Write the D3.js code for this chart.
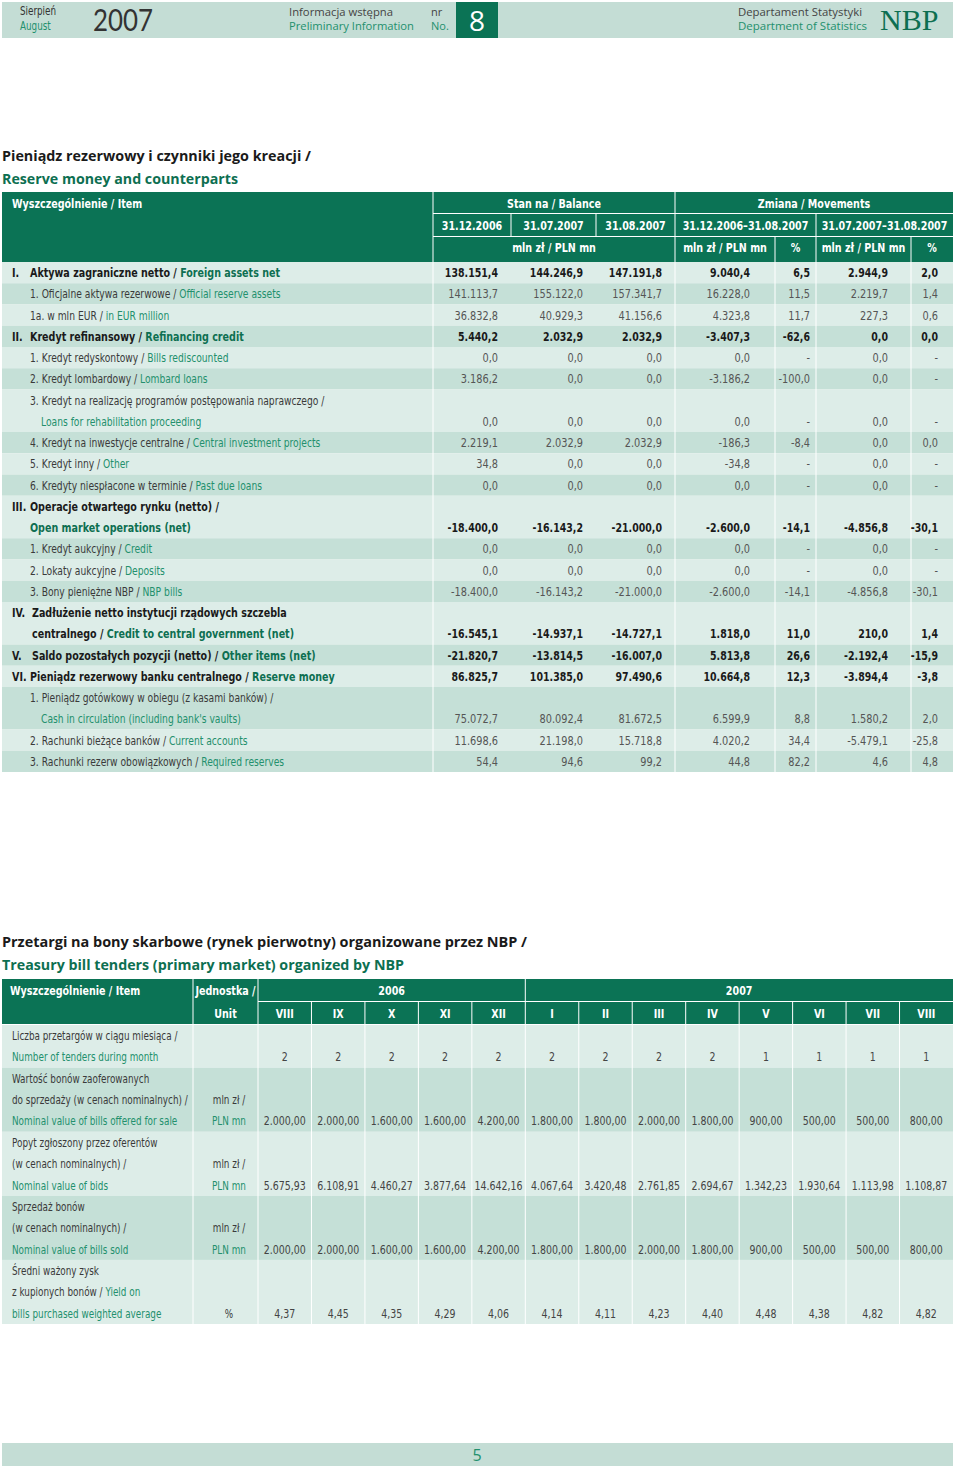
<!DOCTYPE html>
<html><head><meta charset="utf-8">
<script src="https://cdn.jsdelivr.net/npm/d3@7"></script>
<style>body{margin:0;background:#fff} svg{display:block}</style>
</head><body>
<script>
// ---------------- DATA ----------------
const t1DateCols = ["31.12.2006","31.07.2007","31.08.2007","31.12.2006–31.08.2007","31.07.2007–31.08.2007"];
const t1Labels = [
 {num:"I.",  bold:true, lines:[["Aktywa zagraniczne netto / ","Foreign assets net"]]},
 {num:"", lines:[["1. Oficjalne aktywa rezerwowe / ","Official reserve assets"]]},
 {num:"", lines:[["1a. w mln EUR / ","in EUR million"]]},
 {num:"II.", bold:true, lines:[["Kredyt refinansowy / ","Refinancing credit"]]},
 {num:"", lines:[["1. Kredyt redyskontowy / ","Bills rediscounted"]]},
 {num:"", lines:[["2. Kredyt lombardowy / ","Lombard loans"]]},
 {num:"", lines:[["3. Kredyt na realizację programów postępowania naprawczego /",""],["","Loans for rehabilitation proceeding"]]},
 {num:"", lines:[["4. Kredyt na inwestycje centralne / ","Central investment projects"]]},
 {num:"", lines:[["5. Kredyt inny / ","Other"]]},
 {num:"", lines:[["6. Kredyty niespłacone w terminie / ","Past due loans"]]},
 {num:"III.", bold:true, lines:[["Operacje otwartego rynku (netto) /",""],["","Open market operations (net)"]]},
 {num:"", lines:[["1. Kredyt aukcyjny / ","Credit"]]},
 {num:"", lines:[["2. Lokaty aukcyjne / ","Deposits"]]},
 {num:"", lines:[["3. Bony pieniężne NBP / ","NBP bills"]]},
 {num:"IV.", bold:true, lines:[["Zadłużenie netto instytucji rządowych szczebla",""],["centralnego / ","Credit to central government (net)"]]},
 {num:"V.", bold:true, lines:[["Saldo pozostałych pozycji (netto) / ","Other items (net)"]]},
 {num:"VI.", bold:true, lines:[["Pieniądz rezerwowy banku centralnego / ","Reserve money"]]},
 {num:"", lines:[["1. Pieniądz gotówkowy w obiegu (z kasami banków) /",""],["","Cash in circulation (including bank's vaults)"]]},
 {num:"", lines:[["2. Rachunki bieżące banków / ","Current accounts"]]},
 {num:"", lines:[["3. Rachunki rezerw obowiązkowych / ","Required reserves"]]}
];
const bal20061231 = [138151.4,141113.7,36832.8,5440.2,0.0,3186.2,0.0,2219.1,34.8,0.0,-18400.0,0.0,0.0,-18400.0,-16545.1,-21820.7,86825.7,75072.7,11698.6,54.4];
const bal20070731 = [144246.9,155122.0,40929.3,2032.9,0.0,0.0,0.0,2032.9,0.0,0.0,-16143.2,0.0,0.0,-16143.2,-14937.1,-13814.5,101385.0,80092.4,21198.0,94.6];
const bal20070831 = [147191.8,157341.7,41156.6,2032.9,0.0,0.0,0.0,2032.9,0.0,0.0,-21000.0,0.0,0.0,-21000.0,-14727.1,-16007.0,97490.6,81672.5,15718.8,99.2];
const chgYtd      = [9040.4,16228.0,4323.8,-3407.3,0.0,-3186.2,0.0,-186.3,-34.8,0.0,-2600.0,0.0,0.0,-2600.0,1818.0,5813.8,10664.8,6599.9,4020.2,44.8];
const chgYtdPct   = [6.5,11.5,11.7,-62.6,null,-100.0,null,-8.4,null,null,-14.1,null,null,-14.1,11.0,26.6,12.3,8.8,34.4,82.2];
const chgMonth    = [2944.9,2219.7,227.3,0.0,0.0,0.0,0.0,0.0,0.0,0.0,-4856.8,0.0,0.0,-4856.8,210.0,-2192.4,-3894.4,1580.2,-5479.1,4.6];
const chgMonthPct = [2.0,1.4,0.6,0.0,null,null,null,0.0,null,null,-30.1,null,null,-30.1,1.4,-15.9,-3.8,2.0,-25.8,4.8];

const t2Months2006 = ["VIII","IX","X","XI","XII"];
const t2Months2007 = ["I","II","III","IV","V","VI","VII","VIII"];
const t2Labels = [
 {lines:[["Liczba przetargów w ciągu miesiąca /",""],["","Number of tenders during month"]], unit:[]},
 {lines:[["Wartość bonów zaoferowanych",""],["do sprzedaży (w cenach nominalnych) /",""],["","Nominal value of bills offered for sale"]], unit:[["",""],["mln zł /",""],["","PLN mn"]]},
 {lines:[["Popyt zgłoszony przez oferentów",""],["(w cenach nominalnych) /",""],["","Nominal value of bids"]], unit:[["",""],["mln zł /",""],["","PLN mn"]]},
 {lines:[["Sprzedaż bonów",""],["(w cenach nominalnych) /",""],["","Nominal value of bills sold"]], unit:[["",""],["mln zł /",""],["","PLN mn"]]},
 {lines:[["Średni ważony zysk",""],["z kupionych bonów / ","Yield on"],["","bills purchased weighted average"]], unit:[["",""],["",""],["%",""]]}
];
const tendersCount = [2,2,2,2,2,2,2,2,2,1,1,1,1];
const billsOffered = [2000.00,2000.00,1600.00,1600.00,4200.00,1800.00,1800.00,2000.00,1800.00,900.00,500.00,500.00,800.00];
const bidsValue    = [5675.93,6108.91,4460.27,3877.64,14642.16,4067.64,3420.48,2761.85,2694.67,1342.23,1930.64,1113.98,1108.87];
const billsSold    = [2000.00,2000.00,1600.00,1600.00,4200.00,1800.00,1800.00,2000.00,1800.00,900.00,500.00,500.00,800.00];
const yieldAvg     = [4.37,4.45,4.35,4.29,4.06,4.14,4.11,4.23,4.40,4.48,4.38,4.82,4.82];

// ---------------- STYLE ----------------
const C = {dark:"#0b7355", band:"#c4ddd5", light:"#ddede8", mid:"#c5e0d7", green:"#23906d", gBold:"#0d6f51", txt:"#3a3a3a", blk:"#1a1a1a"};
const COND = "'DejaVu Sans Condensed','Liberation Sans Narrow',sans-serif";
const SANS = "'Open Sans','Noto Sans',sans-serif";
const SX = 0.85;
const loc = d3.formatLocale({decimal:",", thousands:".", grouping:[3], currency:["",""], minus:"-"});
const f1 = loc.format(",.1f"), f2 = loc.format(",.2f");
const fmt1 = v => v == null ? "-" : f1(v);

const svg = d3.select("body").append("svg").attr("width",960).attr("height",1468);
svg.append("rect").attr("width",960).attr("height",1468).attr("fill","#fff");

function txt(g, x, y, segs, o){
  const sx = o.sx != null ? o.sx : ((o.family||COND)===COND ? SX : 1);
  const t = g.append("text").attr("transform",`translate(${x},${y}) scale(${sx},1)`)
    .attr("font-family",o.family||COND).attr("font-size",o.size||12)
    .attr("font-weight",o.bold?"bold":"normal").attr("text-anchor",o.anchor||"start");
  segs.forEach((s,i)=>{ if(!s) return; t.append("tspan").text(s)
     .attr("fill", i===0 ? (o.bold?C.blk:C.txt) : (o.bold?C.gBold:C.green)); });
  if(o.fill) t.selectAll("tspan").attr("fill",o.fill);
  if(o.fit) t.attr("textLength",o.fit).attr("lengthAdjust","spacingAndGlyphs");
  return t;
}

// ---------------- PAGE HEADER ----------------
svg.append("rect").attr("x",2).attr("y",2).attr("width",951).attr("height",36).attr("fill",C.band);
svg.append("rect").attr("x",456).attr("y",2).attr("width",42).attr("height",36).attr("fill",C.dark);
txt(svg,20,15,["Sierpień"],{size:11.5,fill:"#333"});
txt(svg,20,30,["August"],{size:11.5,fill:C.green});
txt(svg,93,31,["2007"],{family:"Lato,'Open Sans',sans-serif",size:31,fill:"#333",fit:60});
txt(svg,289,16,["Informacja wstępna"],{family:SANS,size:11,fill:"#444",fit:104});
txt(svg,289,30,["Preliminary Information"],{family:SANS,size:11,fill:C.green,fit:125});
txt(svg,431,16,["nr"],{family:SANS,size:11,fill:"#444"});
txt(svg,431,30,["No."],{family:SANS,size:11,fill:C.green});
txt(svg,477,31,["8"],{family:SANS,size:28,fill:"#fff",anchor:"middle"});
txt(svg,738,16,["Departament Statystyki"],{family:SANS,size:11,fill:"#444",fit:124});
txt(svg,738,30,["Department of Statistics"],{family:SANS,size:11,fill:C.green,fit:129});
txt(svg,880,30,["NBP"],{family:"'Liberation Serif','DejaVu Serif',serif",size:30,fill:C.gBold});

// ---------------- TABLE 1 ----------------
txt(svg,2,161,["Pieniądz rezerwowy i czynniki jego kreacji /"],{family:SANS,size:14.5,bold:true,fill:C.blk,fit:309});
txt(svg,2,184,["Reserve money and counterparts"],{family:SANS,size:14.5,bold:true,fill:C.gBold,fit:236});

const h1 = svg.append("g");
h1.append("rect").attr("x",2).attr("y",192).attr("width",951).attr("height",70).attr("fill",C.dark);
const wl = (g,x1,y1,x2,y2)=>g.append("line").attr("x1",x1).attr("y1",y1).attr("x2",x2).attr("y2",y2).attr("stroke","#fff").attr("stroke-width",1);
wl(h1,433,192,433,262); wl(h1,433,213.5,953,213.5); wl(h1,433,236.5,953,236.5);
wl(h1,675,192,675,262); wl(h1,511,213.5,511,236.5); wl(h1,596,213.5,596,236.5); wl(h1,816,213.5,816,262);
wl(h1,775,236.5,775,262); wl(h1,911,236.5,911,262);
const hOpt = {bold:true,fill:"#fff",anchor:"middle",size:12.5};
txt(h1,12,208,["Wyszczególnienie / Item"],{bold:true,fill:"#fff",size:12.5});
txt(h1,554,208,["Stan na / Balance"],hOpt);
txt(h1,814,208,["Zmiana / Movements"],hOpt);
const dateCenters = [472,553.5,635.5,745.5,884.5];
t1DateCols.forEach((d,i)=>txt(h1,dateCenters[i],230,[d],hOpt));
txt(h1,554,252,["mln zł / PLN mn"],hOpt);
txt(h1,725,252,["mln zł / PLN mn"],hOpt);
txt(h1,795.5,252,["%"],hOpt);
txt(h1,863.5,252,["mln zł / PLN mn"],hOpt);
txt(h1,932,252,["%"],hOpt);

// rows
let acc = 0;
const rows1 = t1Labels.map((r,i)=>{ const s = acc; acc += r.lines.length; return {...r, i, start:s}; });
const y1 = d3.scaleLinear().domain([0,acc]).range([262,772]);
const valKeys = ["a","b","c","d","e","f","g"];
const valSeries = [bal20061231,bal20070731,bal20070831,chgYtd,chgYtdPct,chgMonth,chgMonthPct];
const xRight = d3.scaleOrdinal().domain(valKeys).range([498,583,662,750,810,888,938]);

const b1 = svg.append("g");
b1.selectAll("rect.row").data(rows1).join("rect").attr("class","row")
  .attr("x",2).attr("width",951)
  .attr("y",d=>y1(d.start)).attr("height",d=>y1(d.start+d.lines.length)-y1(d.start))
  .attr("fill",d=>d.i%2===0?C.light:C.mid);
[433,675,775,816,911].forEach(x=>wl(b1,x,262,x,772));
rows1.forEach(r=>{
  const base = k => y1(r.start+k)+15;
  if(r.bold){
    txt(b1,12,base(0),[r.num],{bold:true,size:12.5,fill:C.blk});
    const x = (r.num==="IV."||r.num==="V.") ? 32 : 30;
    r.lines.forEach((ln,k)=>txt(b1,x,base(k),ln,{bold:true,size:12.5}));
  } else {
    r.lines.forEach((ln,k)=>txt(b1,k===0?30:41,base(k),ln,{size:12}));
  }
  const last = base(r.lines.length-1);
  valSeries.forEach((s,j)=>{
    txt(b1,xRight(valKeys[j]),last,[fmt1(s[r.i])],{anchor:"end",size:12.5,bold:r.bold,fill:r.bold?C.blk:"#555",sx:r.bold?0.84:0.87});
  });
});

// ---------------- TABLE 2 ----------------
txt(svg,2,947,["Przetargi na bony skarbowe (rynek pierwotny) organizowane przez NBP /"],{family:SANS,size:14.5,bold:true,fill:C.blk,fit:525});
txt(svg,2,970,["Treasury bill tenders (primary market) organized by NBP"],{family:SANS,size:14.5,bold:true,fill:C.gBold,fit:402});

const months = t2Months2006.map(m=>"2006-"+m).concat(t2Months2007.map(m=>"2007-"+m));
const xM = d3.scaleBand().domain(months).range([258,953]);
const h2 = svg.append("g");
h2.append("rect").attr("x",2).attr("y",979).attr("width",951).attr("height",45).attr("fill",C.dark);
wl(h2,193,979,193,1024); wl(h2,258,979,258,1024); wl(h2,258,1001.5,953,1001.5);
wl(h2,xM("2007-I"),979,xM("2007-I"),1024);
months.slice(1).forEach(m=>{ if(m!=="2007-I") wl(h2,xM(m),1001.5,xM(m),1024); });
txt(h2,10,995,["Wyszczególnienie / Item"],{bold:true,fill:"#fff",size:12.5});
txt(h2,225.5,995,["Jednostka /"],{bold:true,fill:"#fff",size:12.5,anchor:"middle"});
txt(h2,225.5,1018,["Unit"],{bold:true,fill:"#fff",size:12.5,anchor:"middle"});
txt(h2,(258+xM("2007-I"))/2,995,["2006"],{bold:true,fill:"#fff",size:12.5,anchor:"middle"});
txt(h2,(xM("2007-I")+953)/2,995,["2007"],{bold:true,fill:"#fff",size:12.5,anchor:"middle"});
months.forEach(m=>txt(h2,xM(m)+xM.bandwidth()/2,1018,[m.split("-")[1]],{bold:true,fill:"#fff",size:12.5,anchor:"middle"}));

const t2Series = [tendersCount.map(d=>loc.format("d")(d)), billsOffered.map(f2), bidsValue.map(f2), billsSold.map(f2), yieldAvg.map(f2)];
let acc2 = 0;
const rows2 = t2Labels.map((r,i)=>{ const s=acc2; acc2+=r.lines.length; return {...r,i,start:s}; });
const y2 = d3.scaleLinear().domain([0,acc2]).range([1025,1324]);
const b2 = svg.append("g");
b2.selectAll("rect.row").data(rows2).join("rect").attr("class","row")
  .attr("x",2).attr("width",951)
  .attr("y",d=>y2(d.start)).attr("height",d=>y2(d.start+d.lines.length)-y2(d.start))
  .attr("fill",d=>d.i%2===0?C.light:C.mid);
[193,258].concat(months.slice(1).map(m=>xM(m))).forEach(x=>wl(b2,x,1025,x,1324));
rows2.forEach(r=>{
  const base = k => y2(r.start+k)+15;
  r.lines.forEach((ln,k)=>txt(b2,12,base(k),ln,{size:12,sx:0.82}));
  r.unit.forEach((ln,k)=>{ if(ln[0]||ln[1]) txt(b2,229,base(k),ln,{size:12,anchor:"middle",sx:0.82}); });
  const last = base(r.lines.length-1);
  months.forEach((m,j)=>txt(b2,xM(m)+xM.bandwidth()/2,last,[t2Series[r.i][j]],{size:12.5,anchor:"middle",fill:"#444",sx:0.84}));
});

// ---------------- FOOTER ----------------
svg.append("rect").attr("x",2).attr("y",1443).attr("width",951).attr("height",23).attr("fill",C.band);
txt(svg,477,1461,["5"],{family:SANS,size:16,fill:C.green,anchor:"middle"});
</script>
</body></html>
